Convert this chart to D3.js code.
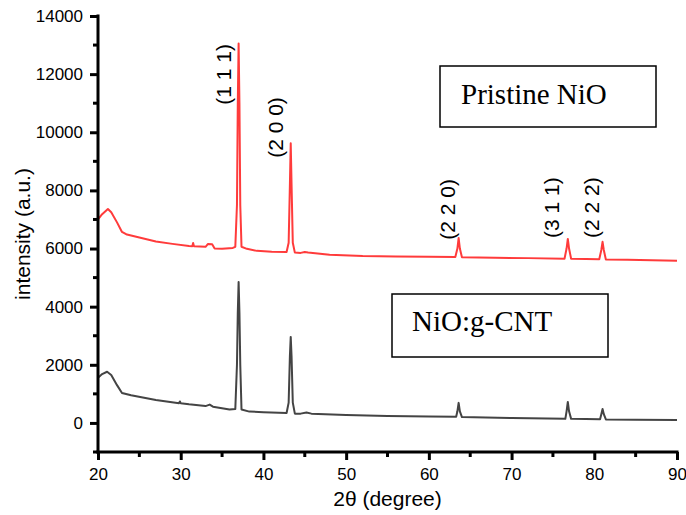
<!DOCTYPE html>
<html>
<head>
<meta charset="utf-8">
<script src="https://cdn.jsdelivr.net/npm/d3@7"></script>
<style>
  html, body { margin: 0; padding: 0; background: #fff; }
  svg { display: block; }
</style>
</head>
<body>
<svg id="chart" width="686" height="515"></svg>
<script>
// ---- data ----
const pristineX = [20.0, 20.5, 21.2, 21.6, 22.3, 22.9, 23.5, 25.0, 27.0, 29.0, 31.0, 31.4, 31.5, 31.6, 33.0, 33.3, 33.8, 34.1, 35.0, 36.3, 36.6, 36.8, 36.9, 37.0, 37.1, 37.2, 37.35, 38.0, 39.2, 41.0, 42.8, 43.05, 43.2, 43.3, 43.4, 43.55, 43.8, 44.5, 45.0, 45.4, 48.0, 52.0, 56.0, 60.0, 63.2, 63.45, 63.6, 63.75, 64.0, 68.0, 72.0, 76.4, 76.65, 76.8, 76.95, 77.2, 79.0, 80.6, 80.85, 81.0, 81.15, 81.4, 84.0, 87.0, 90.0];
const pristineY = [7000, 7180, 7360, 7250, 6900, 6570, 6480, 6380, 6240, 6160, 6090, 6080, 6190, 6080, 6060, 6160, 6150, 6000, 5990, 6020, 6060, 7500, 11000, 13050, 11000, 7500, 6060, 5990, 5920, 5890, 5880, 6200, 8200, 9620, 8200, 6200, 5860, 5850, 5880, 5860, 5790, 5740, 5730, 5720, 5710, 6000, 6360, 6000, 5700, 5680, 5670, 5650, 6000, 6330, 6000, 5650, 5640, 5630, 5950, 6230, 5950, 5620, 5610, 5600, 5580];

const cntX = [20.0, 20.5, 21.1, 21.6, 22.3, 22.9, 24.0, 25.1, 27.0, 29.8, 29.9, 30.0, 31.0, 33.0, 33.5, 33.9, 35.9, 36.6, 36.8, 36.9, 37.0, 37.1, 37.2, 37.35, 38.3, 40.0, 42.8, 43.05, 43.2, 43.3, 43.4, 43.55, 43.8, 44.5, 45.2, 45.8, 50.0, 55.0, 60.0, 63.3, 63.45, 63.6, 63.75, 64.0, 70.0, 76.5, 76.65, 76.8, 76.95, 77.2, 80.7, 80.85, 81.0, 81.15, 81.4, 85.0, 90.0];
const cntY = [1550, 1680, 1760, 1650, 1300, 1030, 950, 890, 790, 680, 740, 680, 640, 580, 630, 560, 460, 480, 2000, 3800, 4850, 3800, 2000, 460, 390, 370, 340, 700, 2300, 2960, 2300, 700, 320, 320, 360, 320, 270, 240, 220, 210, 400, 690, 400, 200, 170, 140, 400, 720, 400, 140, 130, 300, 480, 300, 120, 110, 100];

const peakLabels = ["(1 1 1)", "(2 0 0)", "(2 2 0)", "(3 1 1)", "(2 2 2)"];
const peakPos = [37.0, 43.3, 63.6, 76.8, 81.0];
const labelBase = [10950, 9120, 6300, 6360, 6360];

const seriesNames = ["Pristine NiO", "NiO:g-CNT"];
const xTicks = [20, 30, 40, 50, 60, 70, 80, 90];
const yTicks = [0, 2000, 4000, 6000, 8000, 10000, 12000, 14000];
const xTitle = "2θ (degree)";
const yTitle = "intensity (a.u.)";

// ---- layout ----
const SANS = "'Liberation Sans', Arial, sans-serif";
const SERIF = "'Liberation Serif', 'Times New Roman', serif";
const svg = d3.select("#chart");
const x = d3.scaleLinear().domain([20, 90]).range([98, 677]);
const y = d3.scaleLinear().domain([-1000, 14000]).range([452, 16]);

const line = d3.line().x(d => d[0]).y(d => d[1]);

function drawSeries(xs, ys, color) {
  const pts = xs.map((v, i) => [x(v), y(ys[i])]);
  svg.append("path")
    .attr("d", line(pts))
    .attr("fill", "none")
    .attr("stroke", color)
    .attr("stroke-width", 2)
    .attr("stroke-linejoin", "round");
}
drawSeries(cntX, cntY, "#444444");
drawSeries(pristineX, pristineY, "#ff3b3b");

// ---- axes ----
const xMinor = d3.range(25, 90, 10);
const yMinor = d3.range(-1000, 14000, 2000);

const gx = svg.append("g").attr("transform", `translate(0,${y(-1000)})`);
gx.call(d3.axisBottom(x).tickValues(xTicks).tickSize(8).tickPadding(8).tickFormat(d3.format("d")));
xMinor.forEach(v => {
  gx.append("line").attr("x1", x(v)).attr("x2", x(v)).attr("y1", 0).attr("y2", 5)
    .attr("stroke", "#000").attr("stroke-width", 3);
});

const gy = svg.append("g").attr("transform", `translate(${x(20)},0)`);
gy.call(d3.axisLeft(y).tickValues(yTicks).tickSize(8).tickPadding(7).tickFormat(d3.format("d")));
yMinor.forEach(v => {
  gy.append("line").attr("x1", -5).attr("x2", 0).attr("y1", y(v)).attr("y2", y(v))
    .attr("stroke", "#000").attr("stroke-width", 3);
});

[gx, gy].forEach(g => {
  g.select(".domain").attr("stroke", "#000").attr("stroke-width", 3);
  g.selectAll(".tick line").attr("stroke", "#000").attr("stroke-width", 3);
  g.selectAll(".tick text").attr("fill", "#000")
    .style("font-size", "17px").style("font-family", SANS);
});
gx.select(".domain").attr("d", `M${x(20) - 1.5},0H${x(90) + 1.5}`);
gy.select(".domain").attr("d", `M0,${y(-1000) + 1.5}V${y(14000) - 1.5}`);

// axis titles
svg.append("text")
  .attr("x", (x(20) + x(90)) / 2).attr("y", 506)
  .attr("text-anchor", "middle")
  .style("font-size", "21px").style("font-family", SANS)
  .text(xTitle);
svg.append("text")
  .attr("transform", `translate(30,${(y(-1000) + y(14000)) / 2}) rotate(-90)`)
  .attr("text-anchor", "middle")
  .style("font-size", "21px").style("font-family", SANS)
  .text(yTitle);

// peak labels
const labelOffsets = [8, 8, 4, 9, 4];
peakLabels.forEach((t, i) => {
  svg.append("text")
    .attr("transform", `translate(${x(peakPos[i]) - labelOffsets[i]},${y(labelBase[i])}) rotate(-90)`)
    .style("font-size", "21px").style("font-family", SANS)
    .text(t);
});

// legend boxes
const boxes = [
  { name: seriesNames[0], x: 440, y: 66, w: 216, h: 61, tx: 461, ty: 104 },
  { name: seriesNames[1], x: 392, y: 294, w: 216, h: 63, tx: 412, ty: 331 }
];
boxes.forEach(b => {
  svg.append("rect").attr("x", b.x).attr("y", b.y).attr("width", b.w).attr("height", b.h)
    .attr("fill", "#fff").attr("stroke", "#000").attr("stroke-width", 1.5);
  svg.append("text").attr("x", b.tx).attr("y", b.ty)
    .style("font-family", SERIF).style("font-size", "29px")
    .text(b.name);
});
</script>
</body>
</html>
